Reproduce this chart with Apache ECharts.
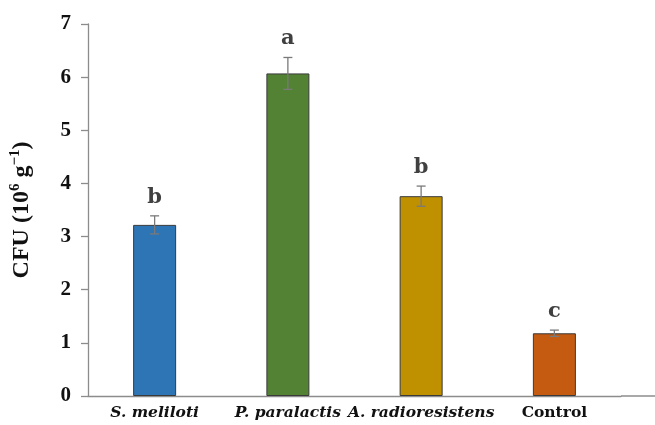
<!DOCTYPE html>
<html><head><meta charset="utf-8">
<script src="https://cdn.jsdelivr.net/npm/echarts@6/dist/echarts.min.js"></script>
<style>html,body{margin:0;padding:0;background:#fff}#c{width:655px;height:425px}</style>
</head><body><div id="c"></div>
<script>
const categories = ['S. meliloti', 'P. paralactis', 'A. radioresistens', 'Control'];
const italicCats = [true, true, true, false];
const values = [3.22, 6.07, 3.76, 1.18];
const errors = [0.17, 0.30, 0.19, 0.06];
const letters = ['b', 'a', 'b', 'c'];
const colors = ['#2E75B6', '#548235', '#BF9000', '#C55A11'];
const yTicks = [0, 1, 2, 3, 4, 5, 6, 7];

const chart = echarts.init(document.getElementById('c'));
const gridLeft = 88, gridRight = 655 - 621, gridTop = 24, gridBottom = 425 - 396;
chart.setOption({
  animation: false,
  grid: { left: gridLeft, right: gridRight, top: gridTop, bottom: gridBottom },
  xAxis: {
    type: 'category',
    data: categories,
    axisLine: { lineStyle: { color: '#8c8c8c', width: 1.3 } },
    axisTick: { show: false },
    axisLabel: {
      interval: 0,
      margin: 9,
      formatter: (v, i) => italicCats[i] ? '{it|' + v + '}' : '{rg|' + v + '}',
      rich: {
        it: { fontFamily: 'DejaVu Serif', fontStyle: 'italic', fontWeight: 'bold', fontSize: 15.5, color: '#111' },
        rg: { fontFamily: 'DejaVu Serif', fontWeight: 'bold', fontSize: 15.5, color: '#111' }
      }
    }
  },
  yAxis: {
    type: 'value',
    min: yTicks[0], max: yTicks[yTicks.length - 1], interval: 1,
    splitLine: { show: false },
    axisLine: { show: true, lineStyle: { color: '#8c8c8c', width: 1.3 } },
    axisTick: { show: true, length: 7, lineStyle: { color: '#8c8c8c', width: 1.3 } },
    axisLabel: { margin: 17, fontFamily: 'Liberation Serif', fontWeight: 'bold', fontSize: 21, color: '#111' },
    name: 'CFU (10{sup|6} g{sup|−1})',
    nameLocation: 'middle',
    nameGap: 53,
    nameRotate: 90,
    nameTextStyle: {
      fontFamily: 'Liberation Serif', fontWeight: 'bold', fontSize: 24, color: '#111',
      rich: { sup: { fontFamily: 'Liberation Serif', fontWeight: 'bold', fontSize: 15, color: '#111', verticalAlign: 'bottom', padding: [0, 0, 12, 0] } }
    }
  },
  graphic: [{
    type: 'line', shape: { x1: 621, y1: 396, x2: 655, y2: 396 },
    style: { stroke: '#8c8c8c', lineWidth: 1.3 }
  }],
  series: [
    {
      type: 'bar',
      barWidth: 43,
      data: values.map((v, i) => ({ value: v, itemStyle: { color: colors[i] } })),
      itemStyle: { borderColor: '#3a3a3a', borderWidth: 1 }
    },
    {
      type: 'custom',
      data: values.map((v, i) => [i, v, errors[i], letters[i]]),
      renderItem: (params, api) => {
        const x = api.coord([api.value(0), 0])[0];
        const hi = api.coord([api.value(0), api.value(1) + api.value(2)])[1];
        const lo = api.coord([api.value(0), api.value(1) - api.value(2)])[1];
        const w = 4.5;
        const st = { stroke: '#7a7a7a', lineWidth: 1.3 };
        return {
          type: 'group',
          children: [
            { type: 'line', shape: { x1: x, y1: hi, x2: x, y2: lo }, style: st },
            { type: 'line', shape: { x1: x - w, y1: hi, x2: x + w, y2: hi }, style: st },
            { type: 'line', shape: { x1: x - w, y1: lo, x2: x + w, y2: lo }, style: st },
            { type: 'text', x: x, y: hi - 8, style: { text: api.value(3), textAlign: 'center', textVerticalAlign: 'bottom', fontFamily: 'DejaVu Serif', fontWeight: 'bold', fontSize: 21, fill: '#404040' } }
          ]
        };
      },
      z: 5
    }
  ]
});
</script></body></html>
